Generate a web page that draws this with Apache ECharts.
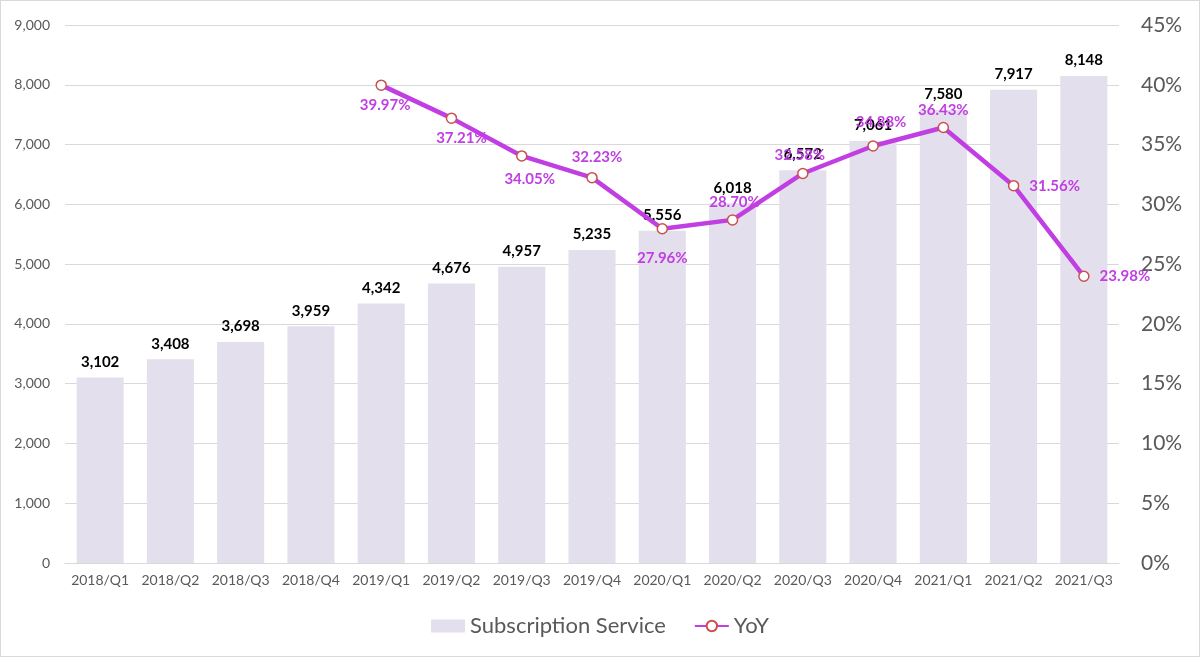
<!DOCTYPE html>
<html><head><meta charset="utf-8">
<script src="https://cdn.jsdelivr.net/npm/echarts@6/dist/echarts.min.js"></script>
<style>html,body{margin:0;padding:0;background:#fff}#c{width:1200px;height:657px;box-sizing:border-box;border:1px solid #d9d9d9}</style>
</head><body><div id="c"></div>
<script>
const categories = ['2018/Q1','2018/Q2','2018/Q3','2018/Q4','2019/Q1','2019/Q2','2019/Q3','2019/Q4','2020/Q1','2020/Q2','2020/Q3','2020/Q4','2021/Q1','2021/Q2','2021/Q3'];
const subscription = [3102,3408,3698,3959,4342,4676,4957,5235,5556,6018,6572,7061,7580,7917,8148];
const yoy = [null,null,null,null,39.97,37.21,34.05,32.23,27.96,28.70,32.58,34.88,36.43,31.56,23.98];
const yoyLabelPos = [null,null,null,null,'bottom','bottom','bottom','top','bottom','top','top','top','top','right','right'];
const yoyLabelOffset = [null,null,null,null,[4,0],[10,0],[8,3],[5,0],[0,9],[2,3],[-3,2],[8,-4],[0,3],[3,0],[3,0]];

const FONT = 'Lato, "Liberation Sans", sans-serif';
const chart = echarts.init(document.getElementById('c'));
chart.setOption({
  animation:false,
  textStyle:{fontFamily:FONT},
  grid:{left:64,right:80,top:24,bottom:93},
  legend:{bottom:14,left:'center',itemGap:28,itemWidth:34,itemHeight:13,
    textStyle:{fontSize:22,color:'#595959',fontFamily:FONT},
    data:[{name:'Subscription Service',icon:'rect'},{name:'YoY'}]},
  xAxis:{type:'category',data:categories,
    axisLine:{lineStyle:{color:'#d9d9d9',width:1}},axisTick:{show:false},
    axisLabel:{color:'#595959',fontSize:14,margin:10,interval:0,fontFamily:FONT}},
  yAxis:[
    {type:'value',min:0,max:9000,interval:1000,
      axisLabel:{color:'#595959',fontSize:14,margin:15,fontFamily:FONT,formatter:v=>v.toLocaleString('en-US')},
      splitLine:{lineStyle:{color:'#d9d9d9'}},axisLine:{show:false},axisTick:{show:false}},
    {type:'value',min:0,max:45,interval:5,position:'right',
      axisLabel:{color:'#595959',fontSize:21,margin:22,fontFamily:FONT,formatter:v=>v+'%'},
      splitLine:{show:false},axisLine:{show:false},axisTick:{show:false}}
  ],
  series:[
    {name:'Subscription Service',type:'bar',data:subscription,barWidth:'67%',
      itemStyle:{color:'#e4dfec'},
      label:{show:true,position:'top',distance:8,color:'#000',fontWeight:'bold',fontSize:15,fontFamily:FONT,
        formatter:p=>p.value.toLocaleString('en-US')}},
    {name:'YoY',type:'line',yAxisIndex:1,data:yoy.map((v,i)=>v==null?null:{value:v,label:{position:yoyLabelPos[i],offset:yoyLabelOffset[i]}}),
      connectNulls:false,
      lineStyle:{color:'#c03ee2',width:4.5},
      itemStyle:{color:'#fff',borderColor:'#c9504f',borderWidth:1.5},
      symbol:'circle',symbolSize:10,showSymbol:true,z:5,
      label:{show:true,color:'#c03ee2',fontWeight:'bold',fontSize:15,fontFamily:FONT,distance:7,
        formatter:p=>p.value.toFixed(2)+'%'}}
  ]
});
</script></body></html>
